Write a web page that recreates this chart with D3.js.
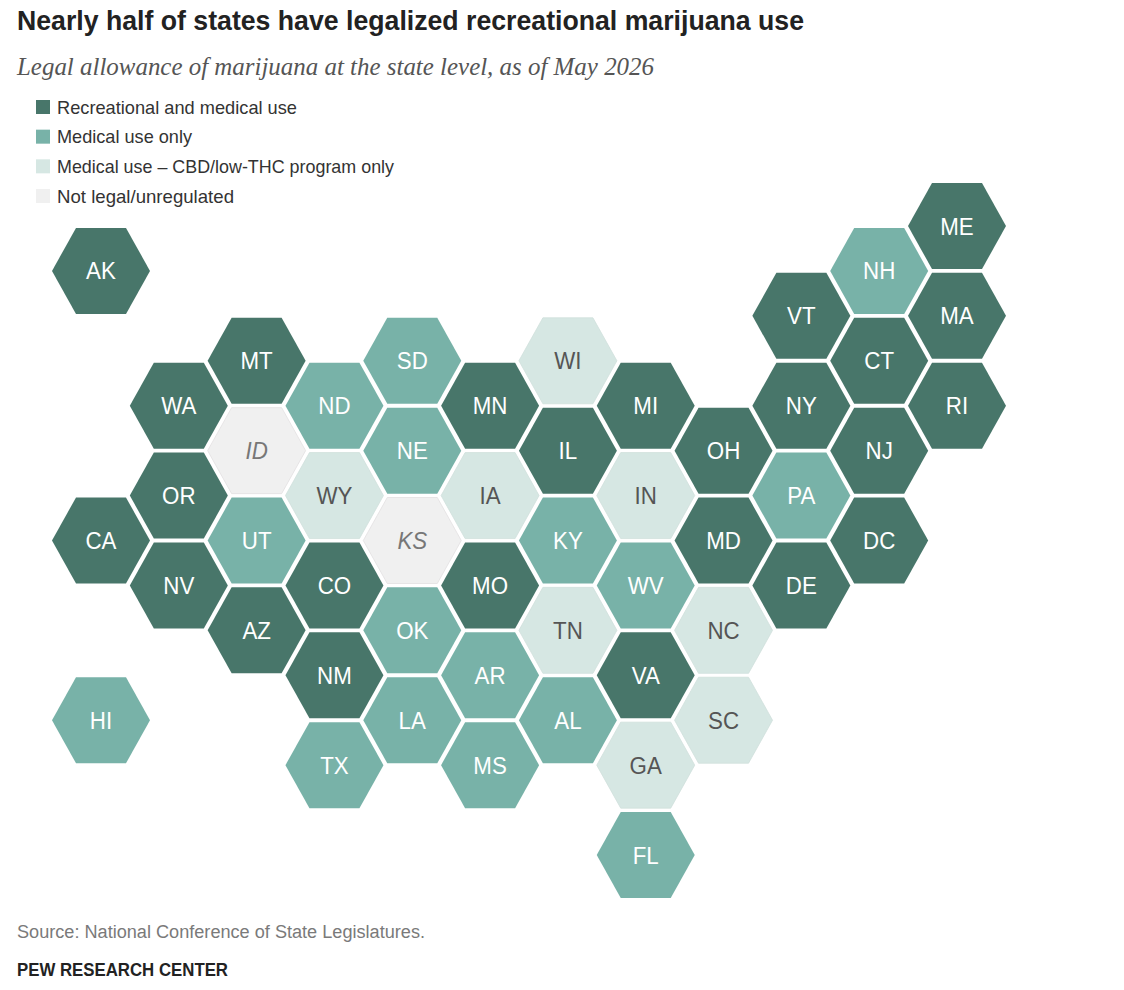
<!DOCTYPE html>
<html>
<head>
<meta charset="utf-8">
<script src="https://cdn.jsdelivr.net/npm/d3@7"></script>
<style>
  html, body { margin: 0; padding: 0; background: #fff; }
  svg { display: block; }
  text { font-family: "Liberation Sans", sans-serif; }
</style>
</head>
<body>
<div id="chart"></div>
<script>
// tile map layout, top row first, one list per row
const rowStates = [
  ['ME'],
  ['AK', 'NH'],
  ['VT', 'MA'],
  ['MT', 'SD', 'WI', 'CT'],
  ['WA', 'ND', 'MN', 'MI', 'NY', 'RI'],
  ['ID', 'NE', 'IL', 'OH', 'NJ'],
  ['OR', 'WY', 'IA', 'IN', 'PA'],
  ['CA', 'UT', 'KS', 'KY', 'MD', 'DC'],
  ['NV', 'CO', 'MO', 'WV', 'DE'],
  ['AZ', 'OK', 'TN', 'NC'],
  ['NM', 'AR', 'VA'],
  ['HI', 'LA', 'AL', 'SC'],
  ['TX', 'MS', 'GA'],
  [],
  ['FL']
]
// same tiles, one list per column, west to east
const colStates = [
  ['AK', 'CA', 'HI'],
  ['WA', 'OR', 'NV'],
  ['MT', 'ID', 'UT', 'AZ'],
  ['ND', 'WY', 'CO', 'NM', 'TX'],
  ['SD', 'NE', 'KS', 'OK', 'LA'],
  ['MN', 'IA', 'MO', 'AR', 'MS'],
  ['WI', 'IL', 'KY', 'TN', 'AL'],
  ['MI', 'IN', 'WV', 'VA', 'GA', 'FL'],
  ['OH', 'MD', 'NC', 'SC'],
  ['VT', 'NY', 'PA', 'DE'],
  ['NH', 'CT', 'NJ', 'DC'],
  ['ME', 'MA', 'RI']
]

const recreational = ['AK', 'ME', 'VT', 'MA', 'MT', 'CT', 'WA', 'MN', 'MI', 'NY', 'RI', 'IL', 'OH', 'NJ', 'OR', 'CA', 'MD', 'DC', 'NV', 'CO', 'MO', 'DE', 'AZ', 'NM', 'VA']
const medical = ['NH', 'SD', 'ND', 'NE', 'UT', 'PA', 'KY', 'WV', 'OK', 'AR', 'HI', 'LA', 'AL', 'TX', 'MS', 'FL']
const lowThc = ['WI', 'WY', 'IA', 'IN', 'TN', 'NC', 'SC', 'GA']
const notLegal = ['ID', 'KS']

const categories = ['Recreational and medical use', 'Medical use only', 'Medical use \u2013 CBD/low-THC program only', 'Not legal/unregulated']
const members = [recreational, medical, lowThc, notLegal]
const fills = ['#48766a', '#78b2a8', '#d6e7e3', '#f0f0f0']
const labelFills = ['#fff', '#fff', '#555', '#777']

const width = 1124, height = 990

const svg = d3.select('#chart').append('svg')
  .attr('width', width)
  .attr('height', height)

// title block
svg.append('text')
  .attr('x', 17).attr('y', 30)
  .attr('font-size', 27).attr('font-weight', 700)
  .attr('fill', '#222')
  .attr('textLength', 787).attr('lengthAdjust', 'spacingAndGlyphs')
  .text('Nearly half of states have legalized recreational marijuana use')

svg.append('text')
  .attr('x', 17).attr('y', 75)
  .style('font-family', '"Liberation Serif", serif')
  .attr('font-size', 25).attr('font-style', 'italic')
  .attr('fill', '#555')
  .attr('textLength', 637).attr('lengthAdjust', 'spacingAndGlyphs')
  .text('Legal allowance of marijuana at the state level, as of May 2026')

// legend
const legendY = d3.scalePoint().domain(categories).range([107, 196])
const legendWidth = [240, 135, 337, 177]
const legend = svg.append('g').selectAll('g')
  .data(categories)
  .enter().append('g')
  .attr('transform', d => `translate(36,${legendY(d)})`)
legend.append('rect')
  .attr('y', -7).attr('width', 14).attr('height', 14)
  .attr('fill', (d, i) => fills[i])
legend.append('text')
  .attr('x', 21).attr('y', 6.5)
  .attr('font-size', 18.5)
  .attr('fill', '#333')
  .attr('textLength', (d, i) => legendWidth[i]).attr('lengthAdjust', 'spacingAndGlyphs')
  .text(d => d)

// tile map
const x = d3.scaleLinear().domain([0, colStates.length - 1]).range([101, 957])
const y = d3.scaleLinear().domain([0, rowStates.length - 1]).range([226, 855])

const tiles = rowStates.flatMap((states, row) => states.map(state => ({
  state,
  row,
  col: colStates.findIndex(c => c.includes(state)),
  cat: members.findIndex(m => m.includes(state))
})))

const rx = 49, ry = 43, edge = 25
const hexPath = d3.line()([[-rx, 0], [-edge, -ry], [edge, -ry], [rx, 0], [edge, ry], [-edge, ry]]) + 'Z'

const tile = svg.append('g').selectAll('g')
  .data(tiles)
  .enter().append('g')
  .attr('transform', d => `translate(${x(d.col)},${y(d.row)})`)

tile.append('path')
  .attr('d', hexPath)
  .attr('fill', d => fills[d.cat])
  .attr('stroke', d => d.cat === 3 ? '#e2dfe0' : d.cat === 2 ? '#cfdfdb' : 'none')
  .attr('stroke-width', 0.75)

tile.append('text')
  .attr('text-anchor', 'middle')
  .attr('transform', 'translate(0,8.5) scale(0.95,1)')
  .attr('font-size', 23.5)
  .attr('font-style', d => d.cat === 3 ? 'italic' : 'normal')
  .attr('fill', d => labelFills[d.cat])
  .text(d => d.state)

// footer
svg.append('text')
  .attr('x', 17).attr('y', 938)
  .attr('font-size', 18)
  .attr('fill', '#7a7a7a')
  .attr('textLength', 408).attr('lengthAdjust', 'spacingAndGlyphs')
  .text('Source: National Conference of State Legislatures.')

svg.append('text')
  .attr('x', 17).attr('y', 976)
  .attr('font-size', 18).attr('font-weight', 700)
  .attr('fill', '#222')
  .attr('textLength', 211).attr('lengthAdjust', 'spacingAndGlyphs')
  .text('PEW RESEARCH CENTER')
</script>
</body>
</html>
